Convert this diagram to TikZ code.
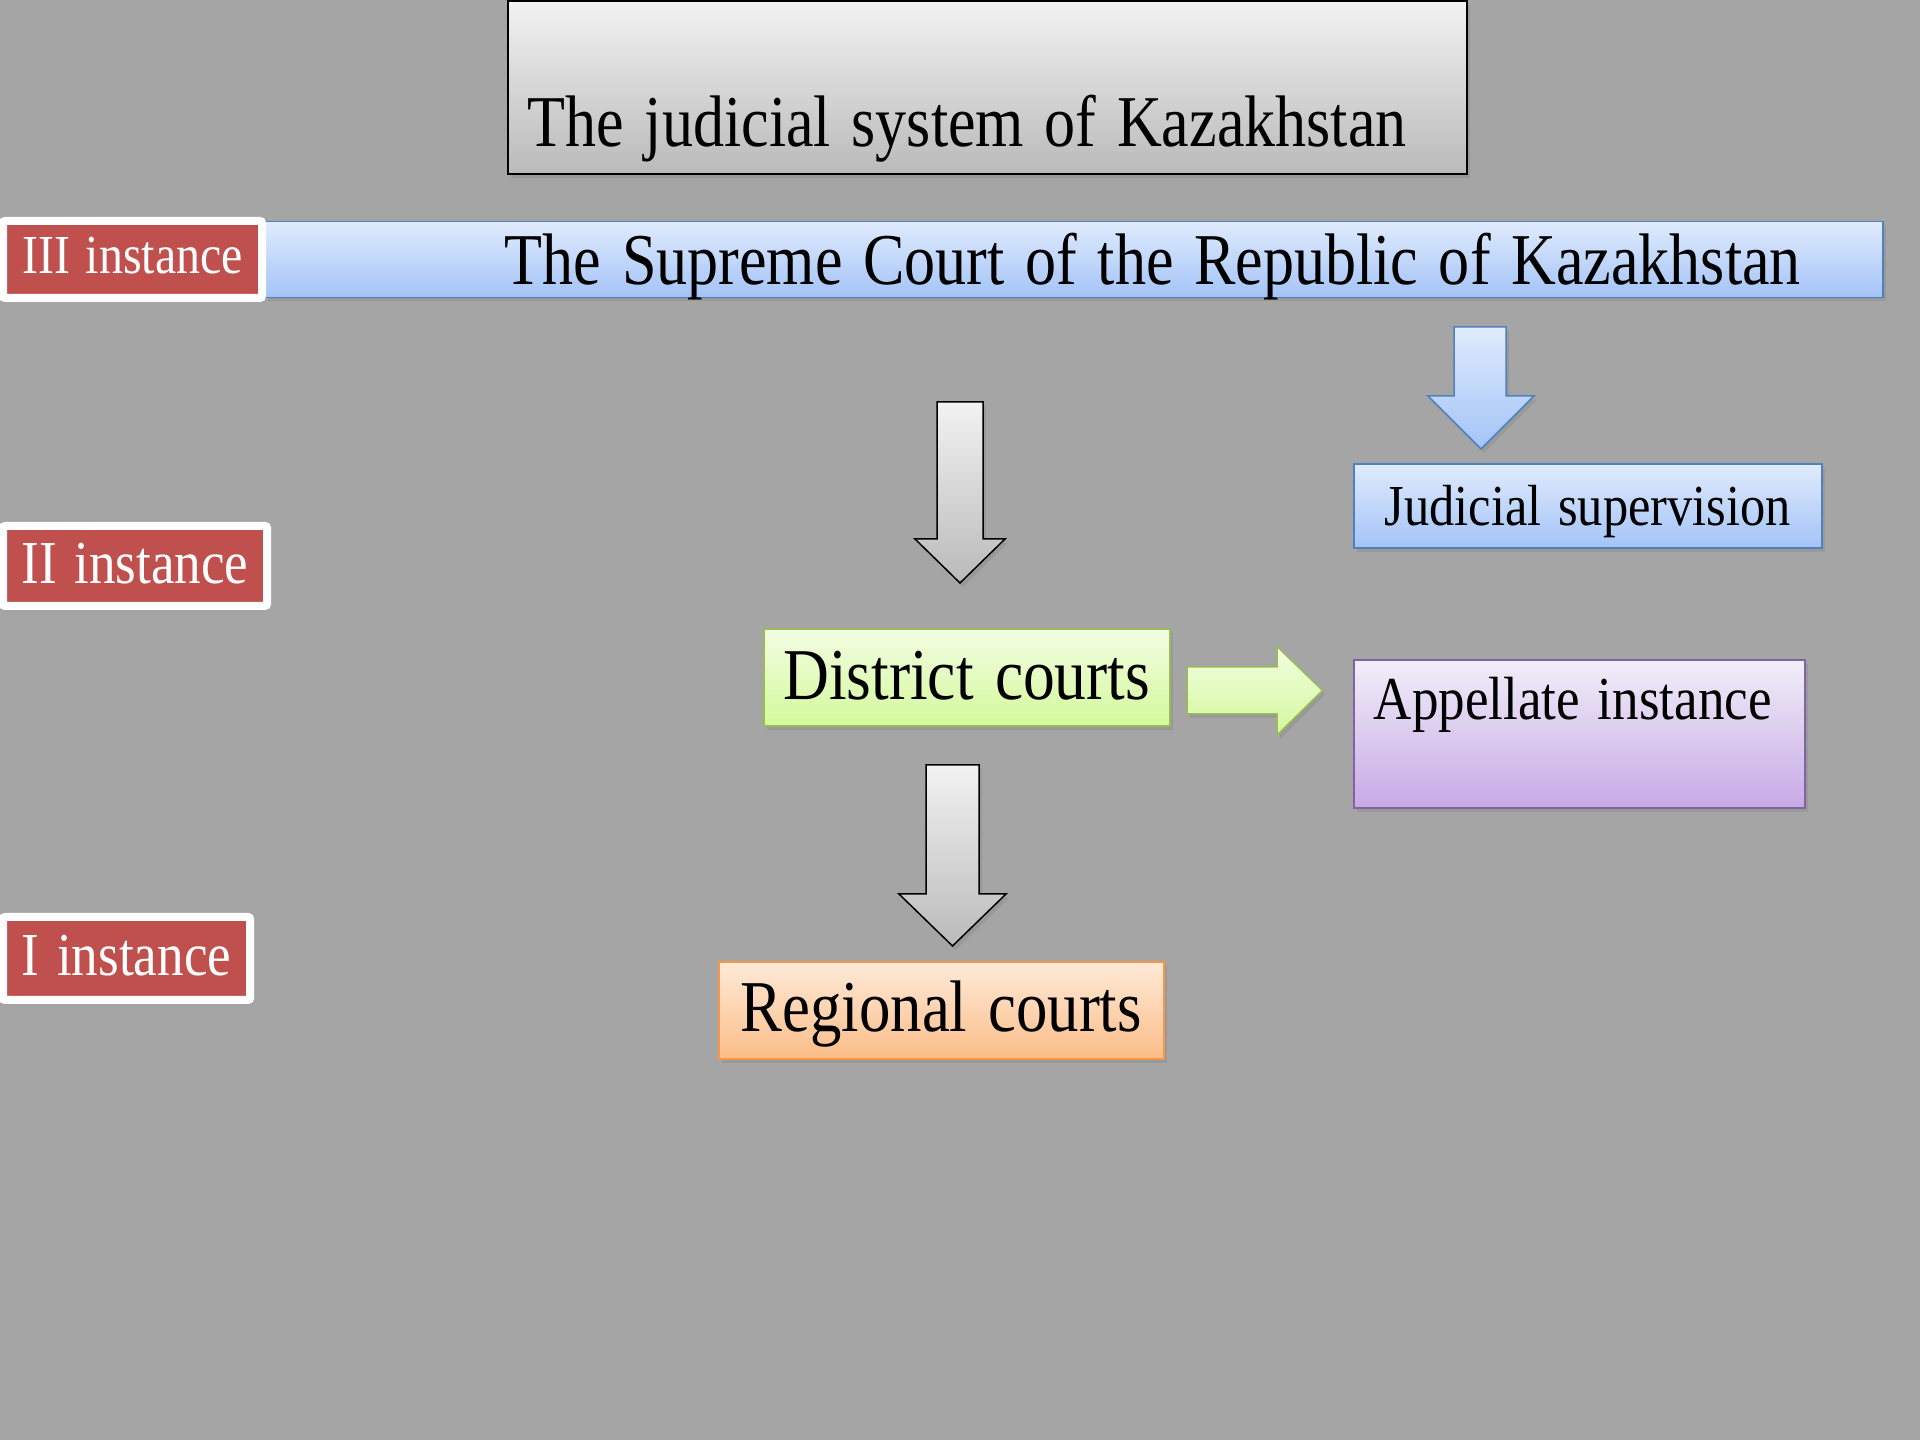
\documentclass[tikz,border=0pt]{standalone}
\usepackage{fontspec}
\usepackage{graphicx}
\setmainfont{Liberation Serif}
\usetikzlibrary{shadows}
\definecolor{slidegray}{HTML}{A5A5A5}
\definecolor{instred}{HTML}{C0504D}
\definecolor{blueline}{HTML}{4F81BD}
\definecolor{bluetop}{HTML}{E0EBFD}
\definecolor{bluebot}{HTML}{A3C3F7}
\definecolor{greenline}{HTML}{9BBB59}
\definecolor{greentop}{HTML}{F3FDE3}
\definecolor{greenbot}{HTML}{D3F99B}
\definecolor{violetline}{HTML}{8064A2}
\definecolor{violettop}{HTML}{F1EEF8}
\definecolor{violetbot}{HTML}{C7A9E6}
\definecolor{orangeline}{HTML}{F79646}
\definecolor{orangetop}{HTML}{FEEAD8}
\definecolor{orangebot}{HTML}{FBBD88}
\definecolor{graytop}{HTML}{F2F2F2}
\definecolor{graybot}{HTML}{BABABA}
\newcommand\fsz[1]{\fontsize{#1}{#1}\selectfont}
\newcommand\narrow[2][0.87]{\scalebox{#1}[1]{#2}}
\tikzset{
  softshadow/.style={drop shadow={opacity=0.3,shadow xshift=3pt,shadow yshift=-4pt}},
  courtbox/.style={rectangle,anchor=base west,inner sep=0pt,line width=1.5pt,softshadow},
  instance/.style={rectangle,anchor=base west,inner sep=0pt,draw=white,line width=8pt,
    fill=instred,text=white,rounded corners=2pt,align=center,softshadow},
  graybox/.style={courtbox,draw=black,top color=graytop,bottom color=graybot},
  bluebox/.style={courtbox,draw=blueline,top color=bluetop,bottom color=bluebot},
  greenbox/.style={courtbox,draw=greenline,top color=greentop,bottom color=greenbot},
  violetbox/.style={courtbox,draw=violetline,top color=violettop,bottom color=violetbot},
  orangebox/.style={courtbox,draw=orangeline,top color=orangetop,bottom color=orangebot},
  blockarrow/.style={line width=1.5pt,line join=miter,softshadow},
}
\begin{document}
\begin{tikzpicture}
%%
\fill [slidegray] (0pt,0pt) rectangle (1920pt,1440pt);
\useasboundingbox (0pt,0pt) rectangle (1920pt,1440pt);
%
\node (title) at (507pt,1293pt) [graybox,text width=919pt,inner xsep=20pt,text height=146pt,text depth=27pt,align=left,font=\fsz{73}] {\narrow[0.85]{The judicial system of Kazakhstan}};
\node (supreme) at (264.5pt,1155pt) [bluebox,text width=1453.5pt,inner xsep=82pt,text height=63.4pt,text depth=12.5pt,align=right,font=\fsz{73}] {\narrow[0.85]{The Supreme Court of the Republic of Kazakhstan}};
\node (supervision) at (1353pt,914pt) [bluebox,text width=468pt,text height=62pt,text depth=22pt,align=center,font=\fsz{58}] {\narrow{Judicial supervision}};
\node (district) at (763pt,740pt) [greenbox,text width=406pt,text height=71pt,text depth=26pt,align=center,font=\fsz{73}] {\narrow{District courts}};
\node (appellate) at (1353pt,720pt) [violetbox,text width=411pt,inner xsep=20pt,text height=60pt,text depth=88pt,align=left,font=\fsz{61}] {\narrow{Appellate instance}};
\node (regional) at (718pt,408pt) [orangebox,text width=445pt,text height=70pt,text depth=27pt,align=center,font=\fsz{73}] {\narrow[0.86]{Regional courts}};
%
\node (inst_3) at (-1pt,1166pt) [instance,text width=259pt,text height=53pt,text depth=24pt,font=\fsz{55}] {\narrow{III instance}};
\node (inst_2) at (-1pt,856pt) [instance,text width=264pt,text height=58pt,text depth=22pt,font=\fsz{61}] {\narrow{II instance}};
\node (inst_1) at (-1pt,464pt) [instance,text width=247pt,text height=59pt,text depth=24pt,font=\fsz{61}] {\narrow{I instance}};
%
\draw [blockarrow,draw=blueline,top color=bluetop,bottom color=bluebot] (1454pt,1113pt) -- (1506pt,1113pt) -- (1506pt,1044pt) -- (1534pt,1044pt) -- (1481pt,991pt) -- (1428pt,1044pt) -- (1454pt,1044pt) -- cycle;
\draw [blockarrow,draw=black,top color=graytop,bottom color=graybot] (937pt,1038pt) -- (983pt,1038pt) -- (983pt,901pt) -- (1005pt,901pt) -- (960pt,857pt) -- (915pt,901pt) -- (937pt,901pt) -- cycle;
\draw [blockarrow,draw=black,top color=graytop,bottom color=graybot] (926pt,675pt) -- (979pt,675pt) -- (979pt,546pt) -- (1006pt,546pt) -- (952.5pt,494pt) -- (899pt,546pt) -- (926pt,546pt) -- cycle;
\draw [blockarrow,draw=greenline,top color=greentop,bottom color=greenbot] (1187pt,773pt) -- (1277pt,773pt) -- (1277pt,793.5pt) -- (1322.5pt,749.5pt) -- (1277pt,705pt) -- (1277pt,726pt) -- (1187pt,726pt) -- cycle;
%
\end{tikzpicture}
\end{document}
